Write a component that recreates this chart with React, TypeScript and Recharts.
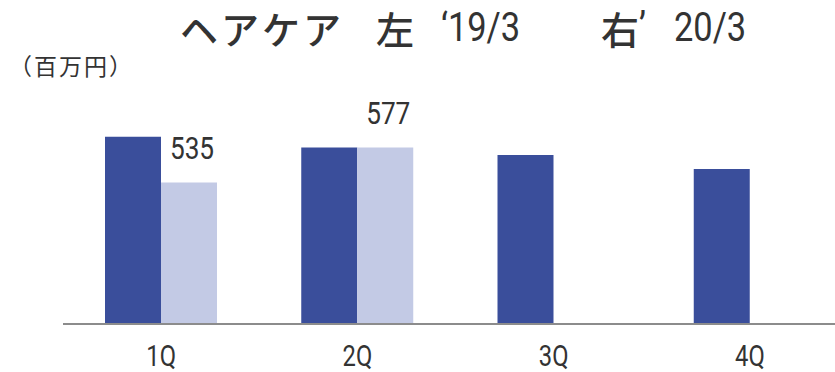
import React from "react";
import { BarChart, Bar, XAxis, YAxis, LabelList } from "recharts";

const quarters = ["1Q", "2Q", "3Q", "4Q"];
const fy2019 = [590, 577, 568, 551];
const fy2020: (number | null)[] = [535, 577, null, null];

const data = quarters.map((q, i) => ({ q, fy2019: fy2019[i], fy2020: fy2020[i] }));

const num = 'Roboto, "DejaVu Sans", sans-serif';
const jp = '"Noto Sans CJK JP", sans-serif';

const titleStyle: React.CSSProperties = {
  position: "absolute",
  top: 9,
  fontSize: 38,
  lineHeight: "38px",
  color: "#333",
  fontWeight: 500,
  whiteSpace: "nowrap",
};

const digitStyle: React.CSSProperties = {
  ...titleStyle,
  fontFamily: num,
  fontWeight: 400,
  fontSize: 40,
  transform: "scaleX(0.86)",
  transformOrigin: "left top",
  top: 9,
};

// narrow-looking number ticks
const QuarterTick = (props: any) => {
  const { x, y, payload } = props;
  return (
    <text
      transform={`translate(${x},${y}) scale(0.82,1)`}
      textAnchor="middle"
      dy="0.71em"
      fill="#333"
      fontSize={29}
      fontFamily={num}
    >
      {payload.value}
    </text>
  );
};

const ValueLabel = (props: any) => {
  const { x, y, width, value } = props;
  if (value == null || x == null) return null;
  return (
    <text
      transform={`translate(${x + width / 2 + 3},${y - 23}) scale(0.82,1)`}
      textAnchor="middle"
      fill="#333"
      fontSize={32}
      fontFamily={num}
    >
      {value}
    </text>
  );
};

export default function App() {
  return (
    <div style={{ position: "absolute", left: 0, top: 0, width: 835, height: 372, overflow: "hidden", background: "#fff" }}>
      <div style={{ ...titleStyle, left: 180, fontFamily: jp, letterSpacing: 3 }}>ヘアケア</div>
      <div style={{ ...titleStyle, left: 376, fontFamily: jp }}>左</div>
      <div style={{ ...digitStyle, left: 441 }}>‘19/3</div>
      <div style={{ ...titleStyle, left: 601, fontFamily: jp }}>右</div>
      <div style={{ ...digitStyle, left: 639 }}>’</div>
      <div style={{ ...digitStyle, left: 674 }}>20/3</div>
      <div
        style={{
          position: "absolute",
          left: 9,
          top: 54,
          fontSize: 23,
          lineHeight: "23px",
          letterSpacing: 2,
          fontFamily: jp,
          color: "#333",
        }}
      >
        （百万円）
      </div>
      <BarChart width={860} height={372} data={data} barGap={0} barSize={56} margin={{ top: 95, right: 12, left: 63, bottom: 0 }}>
        <YAxis hide domain={[365, 640]} allowDataOverflow />
        <XAxis
          dataKey="q"
          interval={0}
          height={48}
          tickLine={false}
          tickMargin={15}
          axisLine={{ stroke: "#8c8c8c", strokeWidth: 2 }}
          tick={<QuarterTick />}
        />
        <Bar dataKey="fy2019" fill="#3a4e9b" isAnimationActive={false} />
        <Bar dataKey="fy2020" fill="#c3cae5" isAnimationActive={false}>
          <LabelList dataKey="fy2020" content={<ValueLabel />} />
        </Bar>
      </BarChart>
    </div>
  );
}
